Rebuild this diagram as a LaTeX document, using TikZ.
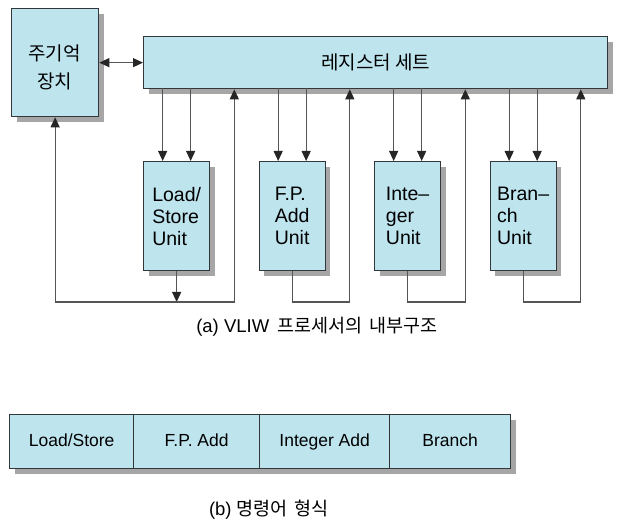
\documentclass[tikz,border=0pt]{standalone}
\usepackage{fontspec}
\setmainfont{Liberation Sans}
\newfontfamily\kr{Noto Sans CJK KR}
\usetikzlibrary{arrows.meta,shadows,calc}
\definecolor{boxfill}{RGB}{190,228,238}
\definecolor{boxline}{RGB}{50,55,60}
\definecolor{wirec}{RGB}{85,85,85}
\begin{document}
\begin{tikzpicture}[x=1pt,y=-1pt,
  box/.style={draw=boxline, line width=1.3pt, fill=boxfill, inner sep=0pt,
    drop shadow={shadow xshift=5pt, shadow yshift=-5pt, fill=black!35, opacity=1}},
  unit/.style={box, minimum width=66pt, minimum height=109pt, anchor=north west,
    align=left, font=\fontsize{19.5}{22}\selectfont},
  cell/.style={draw=boxline, line width=1.3pt, fill=boxfill, inner sep=0pt,
    minimum height=54pt, anchor=north west, text height=13pt, text depth=4pt,
    font=\fontsize{17.5}{20}\selectfont},
  wire/.style={draw=wirec, line width=1.1pt},
  tip/.tip={Triangle[length=10pt,width=9pt,color=black!85]},
  arr/.style={wire, -tip},
  darr/.style={wire, tip-tip}]
\useasboundingbox (0,0) rectangle (621,526);
\fill[white] (0,0) rectangle (621,526);

% part (a)
\node[box, minimum width=87pt, minimum height=108pt, anchor=north west] (mem) at (11,8) {};
\node[align=center, font=\kr\fontsize{19}{28}\selectfont] (memtxt) at (54.5,67) {주기억\\장치};
\node[box, minimum width=464pt, minimum height=52pt, anchor=north west,
  font=\kr\fontsize{19}{22}\selectfont] (reg) at (143,36) {레지스터 세트\hspace{16pt}};

\node[unit] (ls)  at (143,161)   {Load/\\Store\\Unit};
\node[unit] (fp)  at (258.5,161) {F.P.\\Add\\Unit};
\node[unit] (int) at (374,161)   {Inte–\\ger\\Unit};
\node[unit] (br)  at (489.5,161) {Bran–\\ch\\Unit};

\coordinate (busy) at (0,302);
\coordinate (lsup) at ($(ls.east)+(24,0)$);
\coordinate (fpup) at ($(fp.east)+(24,0)$);
\coordinate (intup) at ($(int.east)+(24,0)$);
\coordinate (brup) at ($(br.east)+(24,0)$);

\draw[darr] (mem.east |- reg.west) -- (reg.west);

\foreach \u in {ls,fp,int,br}{
  \draw[arr] ($(\u.north)+(-14,0)$) ++(0,-73) -- ($(\u.north)+(-14,0)$);
  \draw[arr] ($(\u.north)+(14,0)$) ++(0,-73) -- ($(\u.north)+(14,0)$);
}
\draw[arr] (fp.south) |- (fpup |- busy) -- (fpup |- reg.south);
\draw[arr] (int.south) |- (intup |- busy) -- (intup |- reg.south);
\draw[arr] (br.south) |- (brup |- busy) -- (brup |- reg.south);
\draw[arr] (ls.south) -- (ls.south |- busy);
\draw[arr] (ls.south |- busy) -| (mem.south);
\draw[arr] (ls.south |- busy) -| (lsup |- reg.south);

\node[font=\fontsize{18.5}{20}\selectfont] (capa) at (317,327)
  {(a) VLIW\hspace{3pt} {\kr 프로세서의\hspace{3pt} 내부구조}};

% part (b)
\node[box, minimum width=501pt, minimum height=54pt, anchor=north west] (bar) at (9,414) {};
\node[cell, minimum width=124pt] (c1) at (9,414)   {Load/Store};
\node[cell, minimum width=126pt] (c2) at (133,414) {F.P. Add};
\node[cell, minimum width=130pt] (c3) at (259,414) {Integer Add};
\node[cell, minimum width=121pt] (c4) at (389,414) {Branch};

\node[font=\fontsize{18.5}{20}\selectfont] (capb) at (269,510)
  {(b) {\kr 명령어\hspace{3pt} 형식}};
\end{tikzpicture}
\end{document}
